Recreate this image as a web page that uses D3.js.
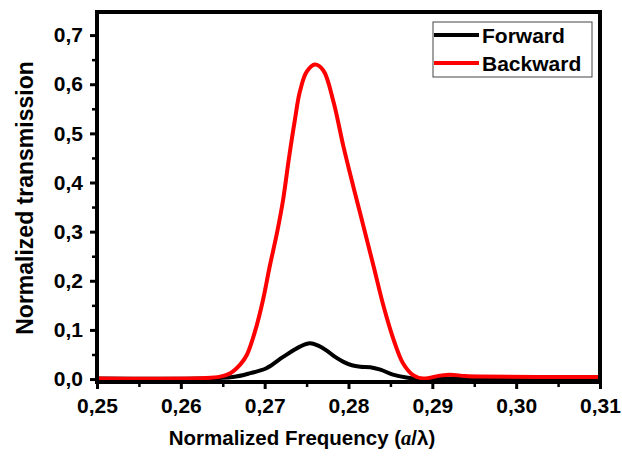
<!DOCTYPE html>
<html>
<head>
<meta charset="utf-8">
<script src="https://cdn.jsdelivr.net/npm/d3@7"></script>
<style>
    body { margin: 0; background: #fff; }
    text { font-family: "Liberation Sans", Arial, sans-serif; font-weight: bold; }
    .axis path, .axis line { stroke: #000; }
    .axis text { font-size: 21px; fill: #000; }
</style>
</head>
<body>
<div id="chart"></div>
<script>
// data
var forwardX = [0.250, 0.2623, 0.2662, 0.2683, 0.2702, 0.2722, 0.2742, 0.2754, 0.2764, 0.2774, 0.2784, 0.2794, 0.2804, 0.2814, 0.2826, 0.2838, 0.2853, 0.2869, 0.2885, 0.2920, 0.310];
var forwardY = [0.001, 0.001, 0.004, 0.012, 0.022, 0.045, 0.066, 0.073, 0.068, 0.058, 0.045, 0.035, 0.028, 0.025, 0.024, 0.019, 0.009, 0.003, 0.000, 0.001, 0.001];

var backwardX = [0.250, 0.2629, 0.2647, 0.2659, 0.2671, 0.2679, 0.2689, 0.2698, 0.2706, 0.2715, 0.2722, 0.2729, 0.2736, 0.2742, 0.2750, 0.2760, 0.2770, 0.2782, 0.2794, 0.2806, 0.2818, 0.2830, 0.2842, 0.2854, 0.2865, 0.2877, 0.2889, 0.2909, 0.2921, 0.2939, 0.2957, 0.310];
var backwardY = [0.001, 0.002, 0.005, 0.012, 0.030, 0.050, 0.100, 0.161, 0.229, 0.300, 0.365, 0.450, 0.527, 0.585, 0.625, 0.640, 0.628, 0.565, 0.473, 0.390, 0.310, 0.229, 0.147, 0.079, 0.032, 0.008, 0.001, 0.007, 0.009, 0.006, 0.005, 0.004];

var xTicks = [0.25, 0.26, 0.27, 0.28, 0.29, 0.30, 0.31];
var yTicks = [0.0, 0.1, 0.2, 0.3, 0.4, 0.5, 0.6, 0.7];
var legendNames = ["Forward", "Backward"];
var colors = ["#000000", "#ff0000"];

var width = 622, height = 466;
var plot = { left: 97, right: 600, top: 12, bottom: 382 };

var svg = d3.select("#chart").append("svg")
    .attr("width", width)
    .attr("height", height);

var x = d3.scaleLinear().domain([0.25, 0.31]).range([plot.left, plot.right]);
var y = d3.scaleLinear().domain([-0.006, 0.747]).range([plot.bottom, plot.top]);

function comma(fmt) {
    return function (d) { return d3.format(fmt)(d).replace(".", ","); };
}

// minor ticks
var xMinor = d3.range(0.255, 0.31, 0.01);
var yMinor = d3.range(0.05, 0.75, 0.1);

svg.append("g")
    .attr("class", "axis")
    .attr("transform", "translate(0," + plot.bottom + ")")
    .call(d3.axisBottom(x).tickValues(xMinor).tickSize(5).tickFormat(""))
    .call(function (g) { g.select(".domain").remove(); g.selectAll("line").attr("stroke-width", 2.5); });

svg.append("g")
    .attr("class", "axis")
    .attr("transform", "translate(" + plot.left + ",0)")
    .call(d3.axisLeft(y).tickValues(yMinor).tickSize(5).tickFormat(""))
    .call(function (g) { g.select(".domain").remove(); g.selectAll("line").attr("stroke-width", 2.5); });

svg.append("g")
    .attr("class", "axis")
    .attr("transform", "translate(0," + plot.bottom + ")")
    .call(d3.axisBottom(x).tickValues(xTicks).tickSize(7).tickPadding(9).tickFormat(comma(".2f")))
    .call(function (g) { g.select(".domain").remove(); g.selectAll("line").attr("stroke-width", 3); });

svg.append("g")
    .attr("class", "axis")
    .attr("transform", "translate(" + plot.left + ",0)")
    .call(d3.axisLeft(y).tickValues(yTicks).tickSize(7).tickPadding(7).tickFormat(comma(".1f")))
    .call(function (g) { g.select(".domain").remove(); g.selectAll("line").attr("stroke-width", 3); });

// curves
var line = d3.line()
    .x(function (d) { return x(d[0]); })
    .y(function (d) { return y(d[1]); })
    .curve(d3.curveCatmullRom.alpha(0.5));

svg.append("path")
    .datum(d3.zip(forwardX, forwardY))
    .attr("fill", "none")
    .attr("stroke", colors[0])
    .attr("stroke-width", 4)
    .attr("stroke-linejoin", "round")
    .attr("d", line);

svg.append("path")
    .datum(d3.zip(backwardX, backwardY))
    .attr("fill", "none")
    .attr("stroke", colors[1])
    .attr("stroke-width", 4)
    .attr("stroke-linejoin", "round")
    .attr("d", line);

// frame
svg.append("rect")
    .attr("x", plot.left)
    .attr("y", plot.top)
    .attr("width", plot.right - plot.left)
    .attr("height", plot.bottom - plot.top)
    .attr("fill", "none")
    .attr("stroke", "#000")
    .attr("stroke-width", 4);

// legend
var legend = svg.append("g");
legend.append("rect")
    .attr("x", 433)
    .attr("y", 22)
    .attr("width", 159)
    .attr("height", 55)
    .attr("fill", "#fff")
    .attr("stroke", "#444")
    .attr("stroke-width", 1);

legendNames.forEach(function (name, i) {
    var ly = 35 + i * 28;
    legend.append("line")
        .attr("x1", 434).attr("x2", 479)
        .attr("y1", ly).attr("y2", ly)
        .attr("stroke", colors[i])
        .attr("stroke-width", 4);
    legend.append("text")
        .attr("x", 482)
        .attr("y", ly + 8)
        .style("font-size", "21px")
        .text(name);
});

// axis titles
svg.append("text")
    .attr("transform", "translate(33,198) rotate(-90)")
    .attr("text-anchor", "middle")
    .style("font-size", "23px")
    .text("Normalized transmission");

var xt = svg.append("text")
    .attr("x", 302)
    .attr("y", 445)
    .attr("text-anchor", "middle")
    .style("font-size", "20.5px");
xt.append("tspan").text("Normalized Frequency (");
xt.append("tspan").style("font-family", "'Liberation Serif', serif").style("font-style", "italic").text("a");
xt.append("tspan").text("/λ)");
</script>
</body>
</html>
